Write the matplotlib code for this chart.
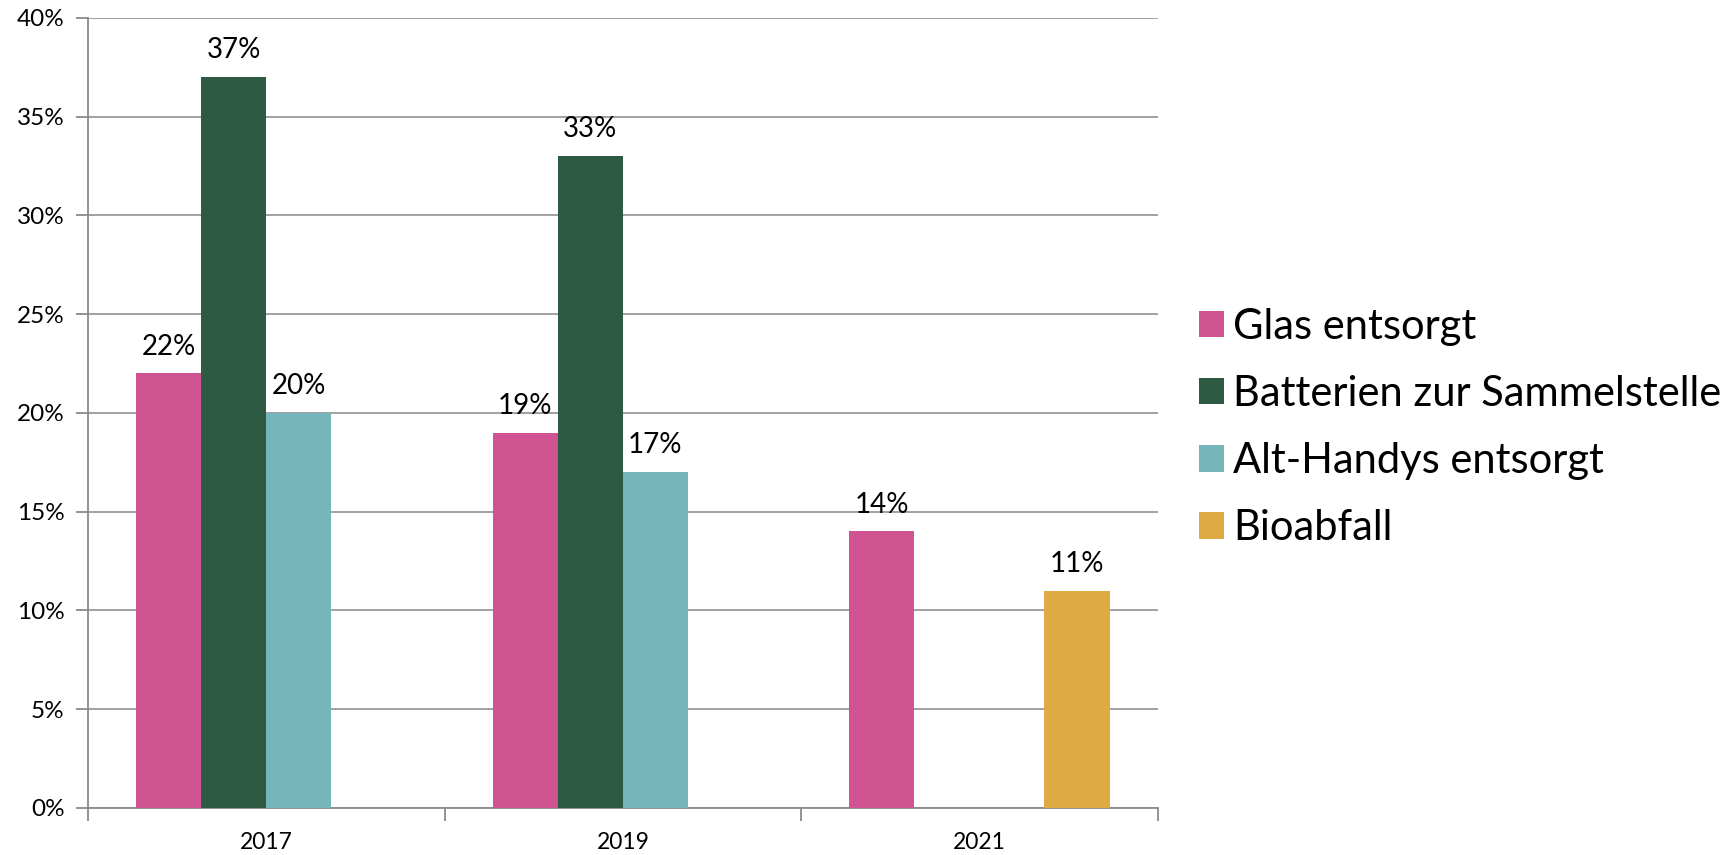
import numpy as np
import matplotlib
matplotlib.use("Agg")
import matplotlib.pyplot as plt
from matplotlib.patches import Patch

plt.rcParams['font.family'] = ['Lato', 'DejaVu Sans']

years = ["2017", "2019", "2021"]
series = ["Glas entsorgt", "Batterien zur Sammelstelle", "Alt-Handys entsorgt", "Bioabfall"]
glas = [22, 19, 14]
batterien = [37, 33, np.nan]
handys = [20, 17, np.nan]
bio = [np.nan, np.nan, 11]
colors = ["#D05492", "#2E5A44", "#76B6BA", "#DEAA43"]

values = [glas, batterien, handys, bio]

fig = plt.figure(figsize=(17.33, 8.55), dpi=100)
ax = fig.add_axes([0.0508, 0.055, 0.6172, 0.924])

x = np.arange(len(years))
w = 0.1825
for i, (vals, c) in enumerate(zip(values, colors)):
    v = np.array(vals, dtype=float)
    pos = x - 2 * w + (i + 0.5) * w
    ax.bar(pos, np.nan_to_num(v), width=w, color=c, zorder=3)
    for p, val in zip(pos, v):
        if not np.isnan(val):
            ax.annotate(f"{int(val)}%", (p, val), xytext=(0, 10), textcoords="offset points",
                        ha="center", va="bottom", fontsize=20)

ax.set_xlim(-0.5, len(years) - 0.5)
ax.set_ylim(0, 40)
ax.set_yticks(np.arange(0, 41, 5))
ax.set_yticklabels([f"{t}%" for t in range(0, 41, 5)], fontsize=17.5)
ax.yaxis.grid(True, color="#9a9a9a", linewidth=1.3, zorder=0)
ax.set_axisbelow(True)

ax.set_xticks([-0.5, 0.5, 1.5, 2.5])
ax.set_xticklabels([])
ax.set_xticks(x, minor=True)
ax.set_xticklabels(years, minor=True, fontsize=16.5)
ax.tick_params(axis="x", which="major", length=9, width=1.3, color="#8a8a8a")
ax.tick_params(axis="x", which="minor", length=0, pad=17)
ax.tick_params(axis="y", length=9, width=1.3, color="#8a8a8a", pad=8)

for s in ["top", "right"]:
    ax.spines[s].set_visible(False)
for s in ["left", "bottom"]:
    ax.spines[s].set_color("#8a8a8a")
    ax.spines[s].set_linewidth(1.3)

handles = [Patch(facecolor=c, edgecolor="none") for c in colors]
fig.legend(handles, series, loc="center left", bbox_to_anchor=(0.692, 0.500),
           frameon=False, fontsize=30, handlelength=0.6, handleheight=0.6,
           handletextpad=0.22, labelspacing=0.70, borderpad=0, borderaxespad=0)

fig.savefig("out.png", dpi=100)
